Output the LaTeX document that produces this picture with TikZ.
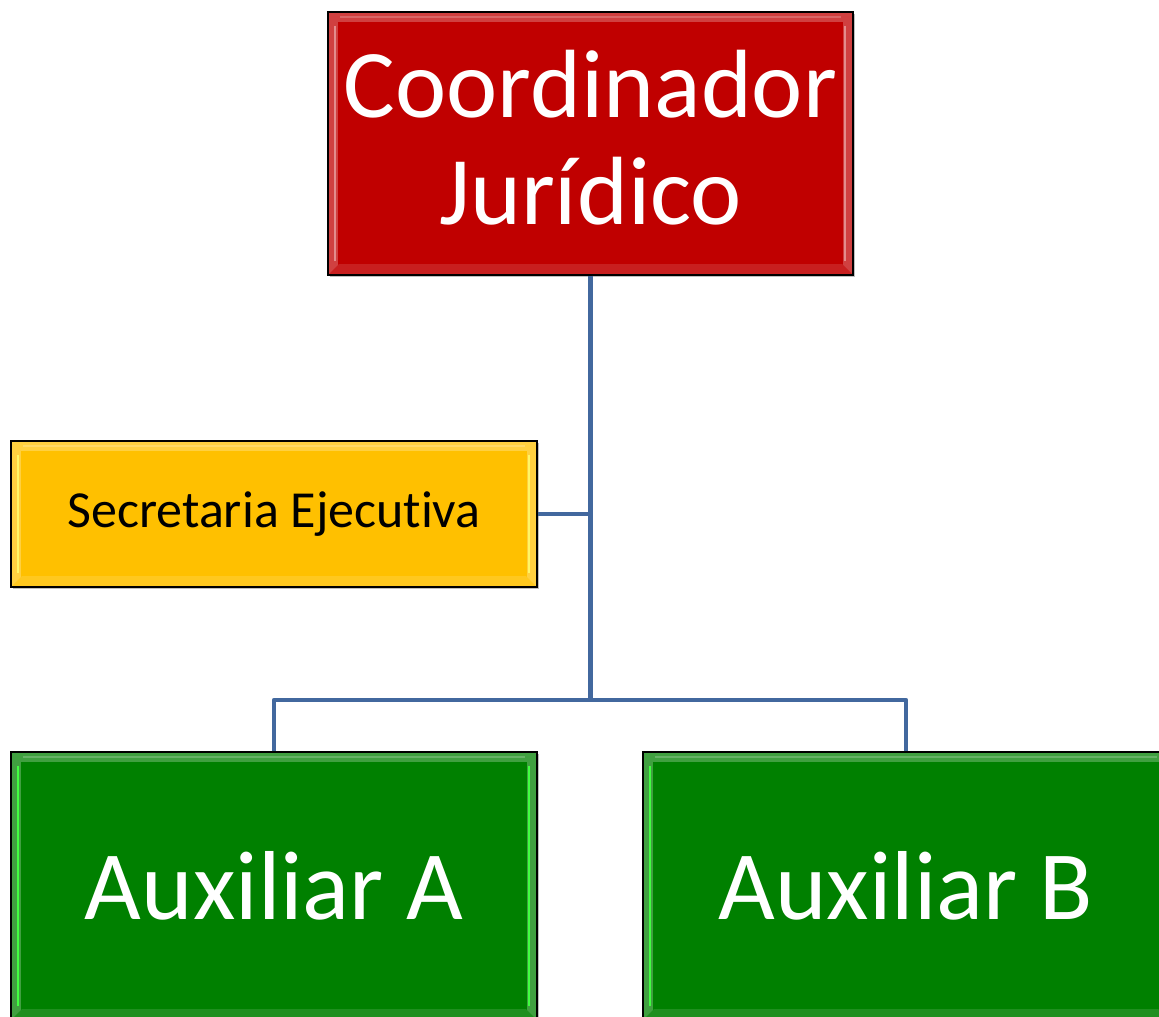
\documentclass[tikz,border=0pt]{standalone}
\usepackage{fontspec}
\setmainfont[RawFeature=-liga]{Carlito}
\usetikzlibrary{calc,shadows}
\definecolor{cred}{RGB}{192,0,0}
\definecolor{cyel}{RGB}{255,192,0}
\definecolor{cgrn}{RGB}{0,128,0}
\definecolor{cline}{RGB}{66,104,158}
\tikzset{
  bevelbox/.style 2 args={draw=black, line width=1.2pt, fill=#1, inner sep=0pt,
    drop shadow={shadow xshift=2pt, shadow yshift=-2pt, opacity=0.25, fill=black},
    path picture={
      \path (path picture bounding box.south west) coordinate (pa)
            (path picture bounding box.north east) coordinate (pb);
      \fill[#1!75!white] (pa) rectangle (pb);
      \fill[#1] ($(pa)+(10,-10)$) rectangle ($(pb)+(-10,10)$);
      \fill[#1!88!white] ($(pa)+(1,-1)$) -- ($(pa)+(11,-11)$) -- ($(pa -| pb)+(-11,-11)$) -- ($(pa -| pb)+(-1,-1)$) -- cycle;
      \draw[#2, line width=2.5pt] ($(pa)+(7,-14)$) -- ($(pa |- pb)+(7,14)$);
      \draw[#2, line width=2.5pt] ($(pb)+(-8,14)$) -- ($(pb |- pa)+(-8,-14)$);
      \draw[#1!60!white, line width=1.5pt] ($(pa |- pb)+(12,5)$) -- ($(pb)+(-12,5)$);
    }},
  conn/.style={draw=cline, line width=4.5pt}
}
\begin{document}
\begin{tikzpicture}[x=1pt,y=-1pt]
\useasboundingbox (0,0) rectangle (1159,1017);
\fill[white] (0,0) rectangle (1159,1017);
\node[bevelbox={cred}{cred!45!white}, minimum width=525pt, minimum height=263pt,
      text=white, align=center, font=\fontsize{97}{107}\selectfont]
      (coord) at (590.5,143.5) {\raisebox{-6pt}[\height][\depth]{\begin{tabular}{@{}c@{}}Coordinador\\Jurídico\end{tabular}}};
\node[bevelbox={cyel}{yellow!60!white}, minimum width=526pt, minimum height=146pt,
      text=black, font=\fontsize{52}{60}\selectfont]
      (sec) at (274,514) {Secretaria Ejecutiva};
\node[bevelbox={cgrn}{green!75!white}, minimum width=526pt, minimum height=268pt,
      text=white, font=\fontsize{98}{110}\selectfont]
      (auxA) at (274,886) {Auxiliar A};
\node[bevelbox={cgrn}{green!75!white}, minimum width=526pt, minimum height=268pt,
      text=white, font=\fontsize{98}{110}\selectfont]
      (auxB) at (906,886) {Auxiliar B};
\coordinate (j2) at (590.5,700);
\draw[conn] (coord.south) -- (j2);
\draw[conn] (sec.east) -- (sec.east -| coord.south);
\draw[conn, line join=round] (auxA.north) |- (j2) -| (auxB.north);
\end{tikzpicture}
\end{document}
